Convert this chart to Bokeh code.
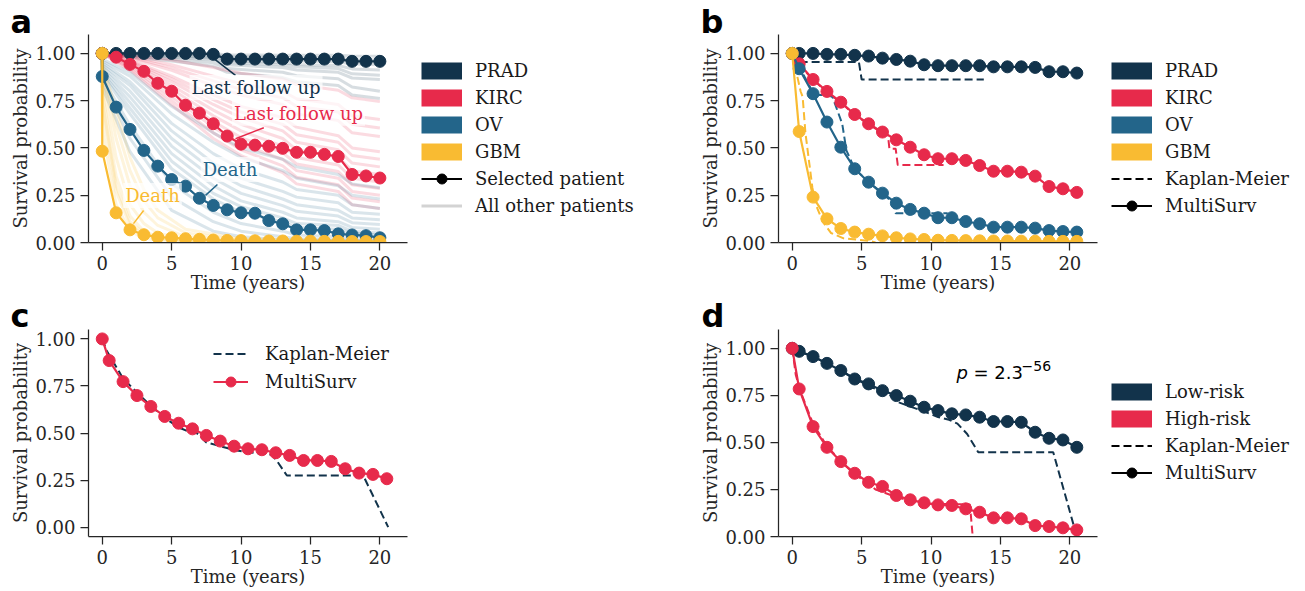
from bokeh.plotting import figure
from bokeh.models import (Range1d, Legend, LegendItem, Label, FixedTicker,
                          NumeralTickFormatter)
from bokeh.layouts import row, column
from bokeh.embed import file_html
from bokeh.resources import INLINE

# ---------------- colours / fonts ----------------
NAVY = "#12334b"
RED = "#e72a4b"
BLUE = "#23658a"
YELLOW = "#f9bb32"
AX = "#262626"
SERIF = "DejaVu Serif"
FS = "18px"

X_TICKS = [0, 5, 10, 15, 20]
Y_TICKS = [0.0, 0.25, 0.5, 0.75, 1.0]
CANCERS = ["PRAD", "KIRC", "OV", "GBM"]

# ---------------- panel a: selected patients ----------------
T_SEL = [0, 0, 1, 2, 3, 4, 5, 6, 7, 8, 9, 10, 11, 12, 13, 14, 15, 16, 17, 18, 19, 20]
PRAD_SEL = [1.0, 1.0, 1.0, 1.0, 1.0, 1.0, 1.0, 1.0, 1.0, 0.995, 0.97, 0.97, 0.97, 0.97,
            0.97, 0.97, 0.97, 0.97, 0.97, 0.958, 0.958, 0.958]
KIRC_SEL = [1.0, 1.0, 0.98, 0.942, 0.905, 0.842, 0.80, 0.726, 0.684, 0.628, 0.563, 0.52,
            0.515, 0.509, 0.498, 0.477, 0.477, 0.466, 0.455, 0.36, 0.352, 0.341]
OV_SEL = [1.0, 0.878, 0.716, 0.598, 0.487, 0.404, 0.333, 0.298, 0.234, 0.196, 0.173, 0.157,
          0.155, 0.116, 0.099, 0.067, 0.067, 0.063, 0.046, 0.04, 0.036, 0.025]
GBM_SEL = [1.0, 0.483, 0.157, 0.067, 0.041, 0.028, 0.025, 0.02, 0.017, 0.013, 0.011, 0.01,
           0.009, 0.008, 0.008, 0.007, 0.007, 0.006, 0.006, 0.005, 0.005, 0.005]

# panel a: all other patients (estimated curves, values at knot times)
PRAD_BG_T = [0, 2, 5, 8, 9, 13, 14, 17, 18, 20]
PRAD_BG = [
    [1, 1, 1, 1, 0.992, 0.99, 0.99, 0.99, 0.986, 0.985],
    [1, 1, 1, 0.996, 0.982, 0.98, 0.976, 0.975, 0.966, 0.965],
    [1, 1, 0.996, 0.99, 0.972, 0.966, 0.96, 0.956, 0.944, 0.94],
    [1, 0.996, 0.99, 0.982, 0.962, 0.952, 0.942, 0.936, 0.918, 0.912],
    [1, 0.992, 0.986, 0.975, 0.952, 0.94, 0.93, 0.92, 0.892, 0.884],
    [1, 0.99, 0.98, 0.966, 0.94, 0.925, 0.912, 0.9, 0.87, 0.862],
    [1, 0.985, 0.97, 0.95, 0.92, 0.9, 0.882, 0.866, 0.822, 0.80],
    [1, 0.98, 0.96, 0.932, 0.9, 0.872, 0.85, 0.83, 0.78, 0.762],
]
KIRC_BG_T = [0, 2, 5, 8, 10, 13, 14, 17, 18, 20]
KIRC_BG = [
    [1, 0.99, 0.965, 0.925, 0.895, 0.865, 0.835, 0.805, 0.765, 0.745],
    [1, 0.985, 0.94, 0.88, 0.84, 0.8, 0.76, 0.73, 0.67, 0.65],
    [1, 0.975, 0.91, 0.83, 0.78, 0.73, 0.68, 0.645, 0.58, 0.56],
    [1, 0.965, 0.88, 0.78, 0.72, 0.66, 0.61, 0.565, 0.5, 0.48],
    [1, 0.955, 0.85, 0.73, 0.66, 0.59, 0.53, 0.49, 0.42, 0.4],
    [1, 0.945, 0.81, 0.67, 0.59, 0.51, 0.45, 0.41, 0.34, 0.32],
    [1, 0.93, 0.77, 0.61, 0.52, 0.44, 0.38, 0.34, 0.27, 0.25],
    [1, 0.91, 0.73, 0.55, 0.46, 0.37, 0.31, 0.27, 0.2, 0.18],
    [1, 0.98, 0.925, 0.855, 0.81, 0.765, 0.72, 0.69, 0.625, 0.605],
    [1, 0.96, 0.865, 0.755, 0.69, 0.625, 0.57, 0.53, 0.46, 0.44],
    [1, 0.94, 0.79, 0.64, 0.555, 0.475, 0.415, 0.375, 0.305, 0.285],
    [1, 0.95, 0.83, 0.70, 0.625, 0.55, 0.49, 0.45, 0.38, 0.36],
    [1, 0.92, 0.75, 0.58, 0.49, 0.405, 0.345, 0.305, 0.235, 0.215],
]
OV_BG_T = [0, 0, 2, 5, 8, 10, 13, 14, 17, 18, 20]
OV_BG = [
    [1, 0.97, 0.9, 0.72, 0.58, 0.5, 0.44, 0.4, 0.36, 0.31, 0.29],
    [1, 0.95, 0.85, 0.63, 0.47, 0.39, 0.32, 0.28, 0.25, 0.2, 0.18],
    [1, 0.93, 0.8, 0.55, 0.38, 0.3, 0.23, 0.2, 0.17, 0.13, 0.12],
    [1, 0.91, 0.74, 0.47, 0.3, 0.22, 0.16, 0.13, 0.11, 0.08, 0.07],
    [1, 0.89, 0.68, 0.39, 0.23, 0.16, 0.11, 0.08, 0.07, 0.05, 0.04],
    [1, 0.87, 0.62, 0.31, 0.16, 0.1, 0.06, 0.04, 0.03, 0.02, 0.02],
    [1, 0.85, 0.55, 0.24, 0.11, 0.06, 0.03, 0.02, 0.015, 0.01, 0.01],
    [1, 0.82, 0.48, 0.17, 0.06, 0.03, 0.015, 0.01, 0.01, 0.005, 0.005],
    [1, 0.96, 0.88, 0.68, 0.53, 0.45, 0.38, 0.34, 0.3, 0.25, 0.23],
    [1, 0.9, 0.71, 0.43, 0.26, 0.19, 0.13, 0.1, 0.09, 0.06, 0.05],
    [1, 0.94, 0.83, 0.59, 0.42, 0.34, 0.27, 0.24, 0.21, 0.16, 0.15],
    [1, 0.92, 0.77, 0.51, 0.34, 0.26, 0.195, 0.165, 0.14, 0.105, 0.095],
]
GBM_BG_T = [0, 0, 1, 2, 3, 4, 6, 10, 20]
GBM_BG = [
    [1, 0.95, 0.7, 0.45, 0.28, 0.17, 0.07, 0.02, 0.005],
    [1, 0.9, 0.55, 0.3, 0.16, 0.09, 0.03, 0.01, 0.003],
    [1, 0.85, 0.45, 0.2, 0.1, 0.05, 0.015, 0.005, 0.002],
    [1, 0.8, 0.35, 0.14, 0.06, 0.03, 0.01, 0.003, 0.001],
    [1, 0.7, 0.27, 0.09, 0.04, 0.02, 0.005, 0.002, 0.001],
    [1, 0.6, 0.2, 0.06, 0.025, 0.01, 0.003, 0.001, 0.0],
    [1, 0.92, 0.62, 0.38, 0.22, 0.13, 0.05, 0.015, 0.004],
    [1, 0.75, 0.3, 0.11, 0.05, 0.025, 0.008, 0.002, 0.001],
]

# ---------------- panel b: per-cancer curves ----------------
T_GRID = [0, 0.5, 1.5, 2.5, 3.5, 4.5, 5.5, 6.5, 7.5, 8.5, 9.5, 10.5, 11.5, 12.5, 13.5,
          14.5, 15.5, 16.5, 17.5, 18.5, 19.5, 20.5]
PRAD_MS = [1.0, 1.0, 1.0, 0.995, 0.995, 0.99, 0.986, 0.975, 0.968, 0.959, 0.94, 0.935,
           0.935, 0.935, 0.935, 0.929, 0.929, 0.929, 0.926, 0.903, 0.903, 0.896]
KIRC_MS = [1.0, 0.945, 0.862, 0.799, 0.742, 0.677, 0.628, 0.584, 0.543, 0.504, 0.464, 0.443,
           0.443, 0.434, 0.407, 0.377, 0.377, 0.372, 0.351, 0.296, 0.284, 0.265]
OV_MS = [1.0, 0.919, 0.787, 0.637, 0.504, 0.39, 0.319, 0.261, 0.208, 0.175, 0.155, 0.131,
         0.131, 0.111, 0.099, 0.081, 0.081, 0.081, 0.076, 0.063, 0.058, 0.055]
GBM_MS = [1.0, 0.587, 0.24, 0.125, 0.074, 0.055, 0.044, 0.035, 0.025, 0.019, 0.016, 0.012,
          0.011, 0.01, 0.009, 0.008, 0.008, 0.007, 0.007, 0.006, 0.006, 0.006]

PRAD_KM_T = [0, 0.6, 0.8, 4.8, 5.0, 13.8]
PRAD_KM = [1.0, 0.99, 0.955, 0.955, 0.862, 0.862]
KIRC_KM_T = [0, 0.5, 1.5, 2.5, 3.5, 4.5, 5.5, 6.5, 6.9, 7.0, 7.45, 7.6, 10.9]
KIRC_KM = [1.0, 0.94, 0.86, 0.795, 0.74, 0.675, 0.625, 0.58, 0.565, 0.496, 0.496, 0.41, 0.41]
OV_KM_T = [0, 0.5, 1.3, 1.5, 2.6, 2.9, 3.6, 3.9, 4.5, 5.5, 6.5, 7.3, 7.45, 11.2]
OV_KM = [1.0, 0.93, 0.82, 0.78, 0.78, 0.769, 0.628, 0.487, 0.39, 0.32, 0.257, 0.21, 0.155, 0.155]
GBM_KM_T = [0, 0.6, 0.75, 0.95, 1.45, 1.7, 2.2, 2.8, 3.7, 5.6, 6.0]
GBM_KM = [1.0, 0.8, 0.77, 0.58, 0.29, 0.2, 0.11, 0.05, 0.022, 0.008, 0.0]

# ---------------- panel c: single cohort ----------------
C_MS = [1.0, 0.885, 0.773, 0.699, 0.641, 0.588, 0.552, 0.522, 0.487, 0.457, 0.43, 0.416,
        0.411, 0.395, 0.381, 0.354, 0.354, 0.349, 0.31, 0.287, 0.28, 0.257]
C_KM_T = [0, 0.3, 1.5, 2.5, 3.5, 4.5, 5.5, 6.3, 6.8, 7.5, 8.5, 9.5, 10.3, 11.5, 12.2, 12.6,
          13.3, 18.8, 20.6]
C_KM = [1.0, 0.94, 0.79, 0.715, 0.645, 0.58, 0.53, 0.505, 0.5, 0.45, 0.43, 0.41, 0.4, 0.39,
        0.385, 0.35, 0.274, 0.274, 0.0]

# ---------------- panel d: risk groups ----------------
RISK_GROUPS = ["Low-risk", "High-risk"]
LOW_MS = [1.0, 0.984, 0.956, 0.92, 0.882, 0.837, 0.811, 0.775, 0.749, 0.719, 0.687, 0.669,
          0.652, 0.646, 0.634, 0.611, 0.611, 0.607, 0.554, 0.522, 0.513, 0.474]
HIGH_MS = [1.0, 0.784, 0.584, 0.474, 0.398, 0.336, 0.288, 0.266, 0.218, 0.195, 0.179, 0.168,
           0.165, 0.147, 0.129, 0.099, 0.099, 0.094, 0.058, 0.053, 0.046, 0.035]
LOW_KM_T = [0, 0.5, 1.5, 2.5, 3.5, 4.5, 5.5, 6.5, 7.2, 7.6, 8.5, 9.3, 10.5, 11.3, 11.9, 12.6,
            13.4, 18.8, 20.5]
LOW_KM = [1.0, 0.985, 0.955, 0.92, 0.88, 0.84, 0.80, 0.77, 0.745, 0.715, 0.69, 0.67, 0.635,
          0.62, 0.60, 0.545, 0.448, 0.448, 0.0]
HIGH_KM_T = [0, 0.25, 0.6, 1.5, 2.5, 3.5, 4.5, 5.5, 6.0, 7.5, 8.5, 9.5, 12.8, 13.0]
HIGH_KM = [1.0, 0.86, 0.77, 0.6, 0.48, 0.4, 0.33, 0.28, 0.25, 0.21, 0.19, 0.175, 0.17, 0.0]

# annotations in panel a (text, anchor, leader line)
ANNOT_TEXT = ["Last follow up", "Last follow up", "Death", "Death"]
ANNOT_X = [11.08, 14.14, 9.2, 3.62]
ANNOT_Y = [0.82, 0.683, 0.386, 0.249]
ANNOT_COLOR = [NAVY, RED, BLUE, YELLOW]
LEAD_X0 = [8.02, 9.6, 7.44, 2.25]
LEAD_Y0 = [0.974, 0.549, 0.249, 0.10]
LEAD_X1 = [9.6, 11.64, 8.3, 2.98]
LEAD_Y1 = [0.884, 0.607, 0.307, 0.169]

OFF = [-100]  # legend-only renderers: a point far outside the visible ranges


def make_fig(w, h, ylim, right, top, bottom, xlab_standoff, letter, letter_off,
             letter_standoff):
    p = figure(width=w, height=h, x_range=Range1d(-0.99, 21.99), y_range=Range1d(*ylim),
               output_backend="svg", toolbar_location=None,
               min_border_left=88, min_border_right=right,
               min_border_top=top, min_border_bottom=bottom)
    p.outline_line_color = None
    p.xgrid.visible = False
    p.ygrid.visible = False
    p.xaxis.ticker = FixedTicker(ticks=X_TICKS)
    p.yaxis.ticker = FixedTicker(ticks=Y_TICKS)
    p.yaxis.formatter = NumeralTickFormatter(format="0.00")
    p.xaxis.axis_label = "Time (years)"
    p.yaxis.axis_label = "Survival probability"
    for ax in (p.xaxis[0], p.yaxis[0]):
        ax.axis_line_color = AX
        ax.axis_line_width = 1.25
        ax.major_tick_line_color = AX
        ax.major_tick_line_width = 1.25
        ax.major_tick_out = 8
        ax.major_tick_in = 0
        ax.minor_tick_line_color = None
        ax.major_label_text_font = SERIF
        ax.major_label_text_font_size = FS
        ax.major_label_text_color = AX
        ax.axis_label_text_font = SERIF
        ax.axis_label_text_font_size = FS
        ax.axis_label_text_font_style = "normal"
        ax.axis_label_text_color = AX
    p.xaxis.major_label_standoff = 5
    p.xaxis.axis_label_standoff = xlab_standoff
    p.yaxis.major_label_standoff = 5
    p.yaxis.axis_label_standoff = 1
    # panel letter as the figure title
    p.title.text = letter
    p.title.align = "left"
    p.title.offset = letter_off
    p.title.standoff = letter_standoff
    p.title.text_font = "DejaVu Sans"
    p.title.text_font_style = "bold"
    p.title.text_font_size = "32px"
    p.title.text_color = "black"
    return p


def legend_fig(w, h):
    p = figure(width=w, height=h, x_range=Range1d(0, 1), y_range=Range1d(0, 1),
               x_axis_location=None, y_axis_location=None, output_backend="svg",
               toolbar_location=None, min_border=0)
    p.outline_line_color = None
    for g in p.grid:
        g.visible = False
    return p


def legend(p, items, x, y, gw=41, standoff=13, spacing=2):
    lg = Legend(items=items, location=(x, y), orientation="vertical",
                glyph_width=gw, glyph_height=25, label_height=25, spacing=spacing,
                padding=0, margin=0, border_line_color=None, background_fill_alpha=0,
                label_text_font=SERIF, label_text_font_size=FS, label_text_color="#1a1a1a",
                label_standoff=standoff)
    p.add_layout(lg)


def patch_item(p, label, color):
    r = p.line(x=OFF, y=OFF, line_color=color, line_width=17)
    return LegendItem(label=label, renderers=[r])


def line_marker_item(p, label, color):
    r1 = p.line(x=OFF, y=OFF, line_color=color, line_width=2)
    r2 = p.scatter(x=OFF, y=OFF, size=10, color=color)
    return LegendItem(label=label, renderers=[r1, r2])


def dashed_item(p, label, color):
    r = p.line(x=OFF, y=OFF, line_color=color, line_width=2, line_dash="8 4")
    return LegendItem(label=label, renderers=[r])


COLORS = [NAVY, RED, BLUE, YELLOW]
ROW1_H = 296
ROW2_H = 294

# ================= panel a =================
pa = make_fig(410, ROW1_H, (0, 1.1), 3, 34, ROW1_H - 34 - 208, -1, "a", -78, -13)
for tk, curves, col in [(PRAD_BG_T, PRAD_BG, NAVY), (KIRC_BG_T, KIRC_BG, RED),
                        (OV_BG_T, OV_BG, BLUE), (GBM_BG_T, GBM_BG, YELLOW)]:
    pa.multi_line(xs=[tk] * len(curves), ys=curves, line_color=col, line_alpha=0.17,
                  line_width=3)
for vals, col in zip([PRAD_SEL, KIRC_SEL, OV_SEL, GBM_SEL], COLORS):
    pa.line(T_SEL, vals, line_color=col, line_width=2.2)
    pa.scatter(T_SEL, vals, size=12, color=col)
pa.segment(x0=LEAD_X0, y0=LEAD_Y0, x1=LEAD_X1, y1=LEAD_Y1, line_color=ANNOT_COLOR,
           line_width=1.5)
for t, x, y, c in zip(ANNOT_TEXT, ANNOT_X, ANNOT_Y, ANNOT_COLOR):
    pa.add_layout(Label(x=x, y=y, text=t, text_align="center", text_baseline="middle",
                        text_font=SERIF, text_font_size=FS, text_color=c,
                        background_fill_color="white", background_fill_alpha=0.7,
                        padding=2))
la = legend_fig(280, ROW1_H)
items_a = [patch_item(la, n, c) for n, c in zip(CANCERS, COLORS)]
items_a.append(line_marker_item(la, "Selected patient", "black"))
r_all = la.line(x=OFF, y=OFF, line_color="#d3d3d3", line_width=3)
items_a.append(LegendItem(label="All other patients", renderers=[r_all]))
legend(la, items_a, 11, 24.5)

# ================= panel b =================
pb = make_fig(410, ROW1_H, (0, 1.1), 3, 34, ROW1_H - 34 - 208, -1, "b", -78, -13)
for kt, km, col in [(PRAD_KM_T, PRAD_KM, NAVY), (KIRC_KM_T, KIRC_KM, RED),
                    (OV_KM_T, OV_KM, BLUE), (GBM_KM_T, GBM_KM, YELLOW)]:
    pb.line(kt, km, line_color=col, line_width=2, line_dash="8 4")
for vals, col in zip([PRAD_MS, KIRC_MS, OV_MS, GBM_MS], COLORS):
    pb.line(T_GRID, vals, line_color=col, line_width=2.2)
    pb.scatter(T_GRID, vals, size=12, color=col)
lb = legend_fig(200, ROW1_H)
items_b = [patch_item(lb, n, c) for n, c in zip(CANCERS, COLORS)]
items_b.append(dashed_item(lb, "Kaplan-Meier", "black"))
items_b.append(line_marker_item(lb, "MultiSurv", "black"))
legend(lb, items_b, 11, 24.5)

# ================= panel c =================
pc = make_fig(690, ROW2_H, (-0.05, 1.05), 283, 33, ROW2_H - 33 - 207, -1, "c", -78, -11)
pc.line(C_KM_T, C_KM, line_color=NAVY, line_width=2, line_dash="8 4")
pc.line(T_GRID, C_MS, line_color=RED, line_width=2.2)
pc.scatter(T_GRID, C_MS, size=12, color=RED)
items_c = [dashed_item(pc, "Kaplan-Meier", NAVY), line_marker_item(pc, "MultiSurv", RED)]
legend(pc, items_c, 125, 142.5, gw=35, standoff=17, spacing=3)

# ================= panel d =================
pd_ = make_fig(410, ROW2_H, (0, 1.1), 3, 33, ROW2_H - 33 - 207, -1, "d", -77, -11)
pd_.line(LOW_KM_T, LOW_KM, line_color=NAVY, line_width=2, line_dash="8 4")
pd_.line(HIGH_KM_T, HIGH_KM, line_color=RED, line_width=2, line_dash="8 4")
for vals, col in zip([LOW_MS, HIGH_MS], [NAVY, RED]):
    pd_.line(T_GRID, vals, line_color=col, line_width=2.2)
    pd_.scatter(T_GRID, vals, size=12, color=col)
pd_.add_layout(Label(x=178, y=164, x_units="screen", y_units="screen", text="p",
                     text_font="DejaVu Sans", text_font_style="italic", text_font_size=FS,
                     text_color="black", text_baseline="alphabetic"))
pd_.add_layout(Label(x=195, y=164, x_units="screen", y_units="screen", text="= 2.3",
                     text_font="DejaVu Sans", text_font_size=FS, text_color="black",
                     text_baseline="alphabetic"))
pd_.add_layout(Label(x=243, y=171, x_units="screen", y_units="screen", text="\u221256",
                     text_font="DejaVu Sans", text_font_size="14px", text_color="black",
                     text_baseline="alphabetic"))
ld = legend_fig(200, ROW2_H)
items_d = [patch_item(ld, n, c) for n, c in zip(RISK_GROUPS, [NAVY, RED])]
items_d.append(dashed_item(ld, "Kaplan-Meier", "black"))
items_d.append(line_marker_item(ld, "MultiSurv", "black"))
legend(ld, items_d, 11, 51.5)

layout = column(row(pa, la, pb, lb), row(pc, pd_, ld))

open("out.html", "w").write(file_html(layout, INLINE))
